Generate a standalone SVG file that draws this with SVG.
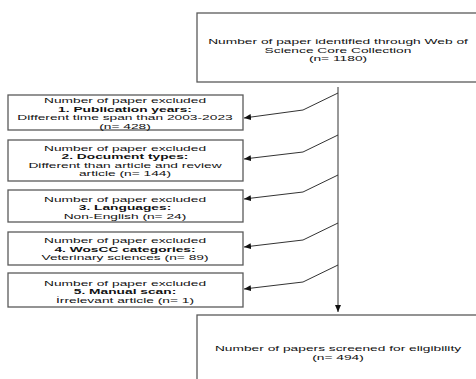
<svg xmlns="http://www.w3.org/2000/svg" width="476" height="379" viewBox="0 0 476 379">
<style>
.box{fill:#fff;stroke:#5a5a5a;stroke-width:1.3}
.t{font-family:"Liberation Sans",Arial,sans-serif;font-size:8px;fill:#111;text-anchor:middle}
.b{font-weight:bold}
.c{fill:none;stroke:#333;stroke-width:1}
</style>
<defs>
<marker id="ah" markerUnits="userSpaceOnUse" markerWidth="8" markerHeight="6" refX="7" refY="3" orient="auto">
<path d="M0,0 L7,3 L0,6 Z" fill="#111"/>
</marker>
</defs>
<rect width="476" height="379" fill="#fff"/>
<g id="connectors">
<path class="c" d="M338,87 V312" marker-end="url(#ah)"/>
<path class="c" d="M338,93 L303,110 L244,118" marker-end="url(#ah)"/>
<path class="c" d="M338,135 L303,152 L244,159" marker-end="url(#ah)"/>
<path class="c" d="M338,175 L303,192 L244,199" marker-end="url(#ah)"/>
<path class="c" d="M338,223 L303,240 L244,247" marker-end="url(#ah)"/>
<path class="c" d="M338,265 L303,282 L244,289" marker-end="url(#ah)"/>
</g>
<g id="identified">
<rect class="box" x="197" y="13" width="282" height="69"/>
<g transform="translate(338,0) scale(1.72,1)">
<text class="t" x="0" y="44.5">Number of paper identified through Web of</text>
<text class="t" x="0" y="53">Science Core Collection</text>
<text class="t" x="0" y="61.5">(n= 1180)</text>
</g>
</g>
<g id="excl1">
<rect class="box" x="8" y="95" width="235" height="35"/>
<g transform="translate(125,0) scale(1.72,1)">
<text class="t" x="0" y="103">Number of paper excluded</text>
<text class="t b" x="0" y="111.7">1. Publication years:</text>
<text class="t" x="0" y="120.3">Different time span than 2003-2023</text>
<text class="t" x="0" y="128.8">(n= 428)</text>
</g>
</g>
<g id="excl2">
<rect class="box" x="8" y="140" width="235" height="41"/>
<g transform="translate(125,0) scale(1.72,1)">
<text class="t" x="0" y="151">Number of paper excluded</text>
<text class="t b" x="0" y="159.4">2. Document types:</text>
<text class="t" x="0" y="167.8">Different than article and review</text>
<text class="t" x="0" y="176.2">article (n= 144)</text>
</g>
</g>
<g id="excl3">
<rect class="box" x="8" y="190" width="235" height="32"/>
<g transform="translate(125,0) scale(1.72,1)">
<text class="t" x="0" y="201.8">Number of paper excluded</text>
<text class="t b" x="0" y="210.2">3. Languages:</text>
<text class="t" x="0" y="218.6">Non-English (n= 24)</text>
</g>
</g>
<g id="excl4">
<rect class="box" x="8" y="232" width="235" height="33"/>
<g transform="translate(125,0) scale(1.72,1)">
<text class="t" x="0" y="243.5">Number of paper excluded</text>
<text class="t b" x="0" y="252">4. WosCC categories:</text>
<text class="t" x="0" y="260.5">Veterinary sciences (n= 89)</text>
</g>
</g>
<g id="excl5">
<rect class="box" x="8" y="273" width="235" height="34"/>
<g transform="translate(125,0) scale(1.72,1)">
<text class="t" x="0" y="286">Number of paper excluded</text>
<text class="t b" x="0" y="294.5">5. Manual scan:</text>
<text class="t" x="0" y="303">İrrelevant article (n= 1)</text>
</g>
</g>
<g id="screened">
<rect class="box" x="197" y="315" width="282" height="80"/>
<g transform="translate(338,0) scale(1.72,1)">
<text class="t" x="0" y="351.5">Number of papers screened for eligibility</text>
<text class="t" x="0" y="360.5">(n= 494)</text>
</g>
</g>
</svg>
